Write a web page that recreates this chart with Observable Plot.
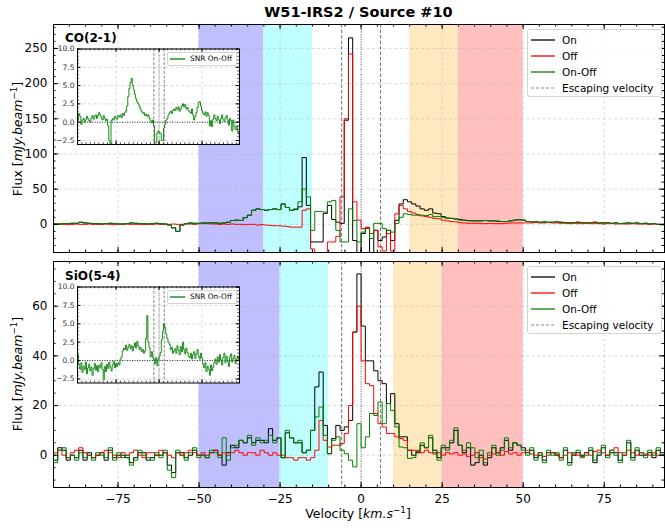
<!DOCTYPE html>
<html><head><meta charset="utf-8">
<script src="https://cdn.jsdelivr.net/npm/d3@7"></script>
<script src="https://cdn.jsdelivr.net/npm/@observablehq/plot@0.6"></script>
<style>
body{margin:0;background:#fff;}
#fig{position:relative;width:665px;height:532px;font-family:"DejaVu Sans",sans-serif;overflow:hidden;background:#fff;color:#000;}
#fig svg{position:absolute;}
.lbl{position:absolute;white-space:nowrap;}
</style></head><body><div id="fig"></div><script>
// ---- channel grid (km/s) ----
const chanWidth = 1.3;
const firstEdge = -94.9;
const xDomain = [-94.9, 93.6];

// ---- CO(2-1) spectra (mJy/beam), one value per channel ----
const coOn = [
0.5,0.5,1,1,1.5,1.5,3,2,1.5,1,
1,0.5,1,1.5,1,0.5,0.5,1,2,1.5,
1,1,0.5,1,1.5,1,0.5,-1,-5,-10,
-1,1,2,1.5,1.5,2,2,2,2,1.5,
2,3,5.5,6,5.5,9.5,13,20,22,21,
20,21,22,21,29,24,20,21,25,95,
27,-25,-25,-25,15.6,27,7,3,1.4,148,
265,-23,-42,-13,-5,-42,-8.5,-23,-18,-8.5,
-23,5.7,29,35,32,29,26,22,20,22,
16,15,11,9,8.5,7.5,7,6,5.5,5,
5,5,5.5,5,5,4.5,4,4,5,6,
6.5,6,4,3.5,3.5,3,3.5,3,3,3.5,
3,2.5,2,2.5,3,2.5,2,2.5,3,2,
2,2.5,1.5,2,1,1.5,2,1.5,2,1,
1.5,0.5,1,0,-0.5];
const coOff = [
0,0.5,0,-0.5,0,0.5,0,0,0.5,0,
0,0,0.5,0,-0.5,0,0,0.5,0,0,
0,-0.5,0,0,0.5,0,0,0,0.5,0,
0,0.5,0.5,0,1,1,1,0.5,0.5,0,
0.5,0,0.5,0,0,-0.5,0,0,-1,-0.5,
-1,-1.5,-2,-2,-2.5,-3,-4,-4,-4,20,
22,-35,-42,-42,-42,-25,-25,-17,39,150,
242,32,6,-6,-4,-13,-8.5,-32,-38,-13,
-38,15,27,22,18,16,14,12,11,10,
8.5,8,6,5,4,3.5,2.5,2,1.5,1.5,
1.5,1,1,1.5,1,1,1,1.5,2,2,
2,2,2,2,2.5,2,2,2.5,2,2,
1.5,1.5,1,1.5,1,1,1.5,1,1,1,
0.5,1,1,0.5,1,0.5,0.5,1,0.5,0.5,
0.5,0,0.5,0,0];
const coOnOff = [
0.5,0,1,1,1.5,1.5,3,2,1.5,1,
1,0.5,1,1.5,1,0.5,0.5,1,2,1.5,
1,1,0.5,1,1.5,1,0.5,-1,-5,-10,
-1,1,1.5,1.5,1,1.5,1.5,2,2,1.5,
2,3,5.5,6,5.5,9.5,13,20,22,21,
20,21,22,21,29,24,20,22,32,50,
39,-8.5,18.5,18,17.5,32,34,-8.5,-25,-25,
22,5.5,-25,-11,-6,-20,1.4,1.4,-6,-8.5,
-11,1.4,10,15,14,13,13,13,12.5,14,
11,11,10,8.5,8.5,8,6,5.5,5,5,
5,5,5.5,5,5,4.5,4,4,5,6,
6.5,6,4,3.5,3.5,3,3.5,3,3,3.5,
3,2.5,2,2.5,3,2.5,2,2.5,3,2,
2,2.5,1.5,2,1,1.5,2,1.5,2,1,
1.5,0.5,1,0,-0.5];
const coSNR = [
0.2,1.2,0.8,-0.3,0.3,0.5,0,0.3,0.8,0.5,
0.2,0,0.6,0.9,0.4,0.8,1.0,0.5,0.9,1.3,
1.0,0.6,0.3,0.9,0.5,0.2,0.4,-0.5,-2.5,-4,
0.2,0.5,0.3,0.8,0.6,0.4,0.9,0.7,1.0,0.6,
1.2,0.9,1.3,1.5,2.2,3.5,4.6,5.4,6.0,5.0,
4.4,3.8,3.2,2.8,2.5,2.2,1.8,1.5,1.2,1.3,
0.9,1.1,0.8,1.0,0.5,0.2,-0.1,0.3,-0.5,-2.8,
-2.8,-1.5,-1.2,-1.5,-1.5,-2.5,-2.5,-0.8,-0.3,0.3,
0.5,1.0,1.3,1.5,1.2,1.6,1.8,1.6,2.0,1.7,
2.1,1.5,1.8,2.2,2.5,2.1,2.4,1.8,2.0,1.6,
1.4,1.2,1.8,1.0,0.3,0.8,1.3,2.0,2.7,2.8,
2.2,1.6,1.2,1.0,1.4,0.8,1.3,0.9,-0.5,0.2,
-0.6,0.4,1.0,0.5,0.2,0.8,0.3,-0.2,0.5,1.0,
0.4,0.1,0.6,0.9,0.3,-0.4,0.5,0.2,-1.2,0.3,
-0.6,-1.0,-0.5,-1.3,-1.6];

// ---- SiO(5-4) spectra (mJy/beam) ----
const sioOn = [
-2,3,2,-2,0,-1,2,-2,1,-1,
0,1,-2,2,-1,0,0,-1,-3,-1,
1,1,-2,-1,0,0,1,-4,-7,1,
1,-1,0,2,0,0,-1,1,2,0,
-4,1,4,3,6,5,7,5,6,6,
5,10.7,6,7,-1,9,7,5,5,1,
2,10,27.5,33.5,12,0.6,6.7,12,10,11.4,
14,49.6,73,52,38,38,34,30,28.8,20.8,
24.8,12.7,7.4,7.4,2,0,1,4,3,7,
2,-1,3,3,5,10,4,1,3,-4,
-3,0,-4,-1,3,1,3,6,2,5,
4,3,1,2,-1,0,-2,1,1,0,
-1,2,-3,0,1,0,1,2,-3,0,
3,0,1,1,-2,0,5,-1,2,0,
0,1,-1,2,1];
const sioOff = [
1,2,0,-1,1,2,3,1,0,-1,
0,1,2,1,0,-1,1,0,1,2,
0,-1,1,1,0,2,1,0,-1,1,
0,1,2,1,0,1,0,1,2,0,
1,0,1,2,1,0,1,1,0,2,
1,0,1,0,0,-1,-1,-2,-1,-1,
-2,-1,2,14,6,3.3,4,4,4.7,8.7,
20,49.6,60,38,28.8,28,16.8,12.7,11.4,8.7,
8.7,7.4,6.7,6,2,2,1.5,1,2,1,
0.5,1,0,1,0.5,1,0,0.5,-0.5,0,
1,-1,-1.5,0,0.5,1,0,1.5,0.5,1,
0,1,2,0.5,0,1,-0.5,0,1,0.5,
-1,0,1,0.5,0,-0.5,1,0,1.5,2,
1,0,2,3,1,0,2,1,0,1,
0.5,0,1,0,0];
const sioOnOff = [
-3,2,3,-1,0,-2,1,-1,0,-2,
1,0,-1,3,-2,1,-1,0,-4,-2,
2,0,-1,-2,1,-1,2,-6,-9,2,
0,-2,1,3,-1,0,-1,2,1,-1,
7,-2,3,4,6,5,8,4,7,5,
6,8,5,7,-1,10,7,5,6,1,
2,10,15.4,19.4,8,0.6,6,7.4,2,0.6,
-2,-4.7,12.7,3,7.4,16.8,16,21.4,12.7,20.8,
18,11.4,3.3,3,-1.3,-1,2,5,3,8,
1,-2,4,2,6,11,4,2,5,3,
-1,2,-3,1,4,0,2,7,3,5,
4,2,0,3,-2,1,-3,2,0,1,
-2,3,-4,1,2,-1,0,3,-2,1,
4,-1,2,0,-3,1,6,-2,3,1,
-1,2,0,3,0];
const sioSNR = [
0.8,-0.5,-1.2,-0.3,-1.6,-0.8,-1.2,-0.2,-1.8,-1.0,
-0.5,-1.4,-0.9,-2.0,-1.1,-0.4,-1.3,-0.7,-1.5,-0.6,
-1.0,-0.3,-1.2,-2.6,-0.8,-1.5,-0.5,-1.1,-0.2,-0.9,
-1.4,-0.6,-0.1,-1.0,-0.4,-0.8,-0.3,-0.6,0.2,0.5,
1.3,1.7,1.5,2.1,1.4,1.8,2.2,1.6,2.0,1.3,
1.9,2.4,1.7,2.6,2.0,1.5,1.8,1.2,1.5,1.0,
1.3,3.0,6.1,2.5,1.7,0.5,1.2,0.4,0.2,-0.4,
0.4,-0.7,0.2,0.6,1.1,2.8,4.0,5.0,4.5,3.6,
3.0,2.5,2.2,1.5,1.8,1.0,1.3,1.6,1.0,2.0,
1.4,0.8,1.9,1.2,2.5,1.5,0.9,1.7,1.1,0.6,
0.4,1.0,0.2,0.8,1.2,0.3,0.9,1.5,0.6,0.2,
1.0,0.4,-0.5,-1.0,-0.3,-1.5,-0.8,-1.2,-2.0,-0.6,
-1.4,-0.9,-0.3,0.2,-0.5,0.5,-0.2,0.8,0.1,-0.6,
0.4,1.0,-0.3,0.6,0.0,-0.8,0.5,0.9,-0.2,0.3,
0.7,-0.4,0.2,0.6,0.1];

// ---- velocity bands, lines, ticks, labels ----
const coBands = [[-50,-30],[-30,-15],[15,30],[30,50]];
const sioBands = [[-50,-25],[-25,-10],[10,25],[25,50]];
const bandColors = ["#bfbfff","#bfffff","#ffe8bf","#ffbfbf"];
const escapeV = [-6, 6];
const systemicV = [0];
const xTicks = [-75,-50,-25,0,25,50,75];
const xMinor = d3.range(-90, 91, 5);
const coYTicks = [0,50,100,150,200,250];
const coYMinor = d3.range(-30, 281, 10);
const sioYTicks = [0,20,40,60];
const sioYMinor = d3.range(-10, 76, 5);
const snrYTicks = [-2.5,0,2.5,5,7.5,10];
const snrYMinor = d3.range(-3, 10.01, 0.5);
const snrXTicks = [-50,0,50];
const snrXMinor = d3.range(-90, 91, 5);
const legendLabels = ["On","Off","On-Off","Escaping velocity"];
const titleText = "W51-IRS2 / Source #10";

const fig = document.getElementById("fig");
function steps(vals){
  const pts = vals.map((y,i)=>({v: firstEdge + i*chanWidth, y}));
  pts.push({v: firstEdge + vals.length*chanWidth, y: vals[vals.length-1]});
  return pts;
}
const gridStyle = {stroke:"#b0b0b0", strokeOpacity:0.6, strokeDasharray:"3,2.5", strokeWidth:0.8};
const baseStyle = {background:"transparent", fontFamily:"DejaVu Sans, sans-serif", overflow:"visible"};

function mainPanel(o){
  const W=665, mL=53, mR=1;
  const fw=W-mL-mR, fh=o.height-o.mt-o.mb;
  const bands=o.bands.map((b,i)=>({x1:b[0],x2:b[1],color:bandColors[i]}));
  const series=[[o.on,"#000000"],[o.off,"#ff0000"],[o.onoff,"#008000"]];
  const marks=[
    Plot.rect(bands,{x1:"x1",x2:"x2",fill:"color"}),
    Plot.gridX(xTicks,gridStyle),
    Plot.gridY(o.yTicks,gridStyle),
    Plot.ruleX(escapeV,{stroke:"#666",strokeWidth:0.9,strokeDasharray:"3.5,2"}),
    Plot.ruleX(systemicV,{stroke:"#666",strokeWidth:0.9,strokeDasharray:"1,1.5"}),
    ...series.map(([vals,c])=>Plot.line(steps(vals),{x:"v",y:"y",curve:"step-after",stroke:c,strokeWidth:1,clip:true})),
    Plot.tickX(xTicks,{x:d=>d,insetTop:fh-5}),
    Plot.tickX(xTicks,{x:d=>d,insetBottom:fh-5}),
    Plot.tickX(xMinor,{x:d=>d,insetTop:fh-2.5}),
    Plot.tickX(xMinor,{x:d=>d,insetBottom:fh-2.5}),
    Plot.tickY(o.yTicks,{y:d=>d,insetRight:fw-5}),
    Plot.tickY(o.yTicks,{y:d=>d,insetLeft:fw-5}),
    Plot.tickY(o.yMinor,{y:d=>d,insetRight:fw-2.5}),
    Plot.tickY(o.yMinor,{y:d=>d,insetLeft:fw-2.5}),
    Plot.axisY(o.yTicks,{tickSize:0,tickPadding:6,fontSize:12,label:null}),
    Plot.frame({stroke:"#000",strokeWidth:1})
  ];
  if(o.xLabels) marks.push(Plot.axisX(xTicks,{tickSize:0,tickPadding:7,fontSize:12,label:null}));
  const xs = o.xLabels ? {domain:xDomain} : {domain:xDomain, axis:null};
  return Plot.plot({width:W,height:o.height,marginLeft:mL,marginRight:mR,marginTop:o.mt,marginBottom:o.mb,
    x:xs,y:{domain:o.yDomain},color:{type:"identity"},style:baseStyle,marks});
}

function inset(o){
  const W=201, H=o.height, mL=35, mR=4, mT=o.mt, mB=4;
  const fw=W-mL-mR, fh=H-mT-mB;
  return Plot.plot({width:W,height:H,marginLeft:mL,marginRight:mR,marginTop:mT,marginBottom:mB,
    x:{domain:xDomain,axis:null}, y:{domain:[-3.05,10]}, style:baseStyle,
    marks:[
      Plot.frame({fill:"#fff",stroke:"none"}),
      Plot.gridX(snrXTicks,gridStyle),
      Plot.gridY(snrYTicks,gridStyle),
      Plot.ruleY([0],{stroke:"#000",strokeWidth:0.8,strokeDasharray:"1,1.5"}),
      Plot.ruleX(escapeV,{stroke:"#666",strokeWidth:0.8,strokeDasharray:"3,1.5"}),
      Plot.ruleX(systemicV,{stroke:"#666",strokeWidth:0.8,strokeDasharray:"1,1.2"}),
      Plot.line(steps(o.snr),{x:"v",y:"y",curve:"step-after",stroke:"#008000",strokeWidth:0.9,clip:true}),
      Plot.tickX(snrXTicks,{x:d=>d,insetTop:fh-3.5}),
      Plot.tickX(snrXTicks,{x:d=>d,insetBottom:fh-3.5}),
      Plot.tickX(snrXMinor,{x:d=>d,insetTop:fh-1.8,strokeWidth:0.7}),
      Plot.tickX(snrXMinor,{x:d=>d,insetBottom:fh-1.8,strokeWidth:0.7}),
      Plot.tickY(snrYTicks,{y:d=>d,insetRight:fw-3.5}),
      Plot.tickY(snrYTicks,{y:d=>d,insetLeft:fw-3.5}),
      Plot.tickY(snrYMinor,{y:d=>d,insetRight:fw-1.8,strokeWidth:0.7}),
      Plot.tickY(snrYMinor,{y:d=>d,insetLeft:fw-1.8,strokeWidth:0.7}),
      Plot.axisY(snrYTicks,{tickSize:0,tickPadding:3,fontSize:7.5,tickFormat:".1f",label:null,fill:"#333"}),
      Plot.frame({stroke:"#000",strokeWidth:1})
    ]});
}

function place(el,left,top){el.style.position="absolute";el.style.left=left+"px";el.style.top=top+"px";fig.appendChild(el);return el;}
function html(s,css){const d=document.createElement("div");d.className="lbl";d.innerHTML=s;d.style.cssText+=css;fig.appendChild(d);return d;}

// main panels
place(mainPanel({on:coOn,off:coOff,onoff:coOnOff,bands:coBands,yDomain:[-40,284],yTicks:coYTicks,yMinor:coYMinor,height:260,mt:24,mb:8,xLabels:false}),0,0);
place(mainPanel({on:sioOn,off:sioOff,onoff:sioOnOff,bands:sioBands,yDomain:[-13,78],yTicks:sioYTicks,yMinor:sioYMinor,height:280,mt:9,mb:45,xLabels:true}),0,252);
// insets
place(inset({snr:coSNR,height:104,mt:4.5}),42,44);
place(inset({snr:sioSNR,height:104.5,mt:4.5}),42,281.5);

// texts
html(titleText,"left:53px;top:3px;width:611px;text-align:center;font-weight:bold;font-size:14.5px;line-height:18px;");
const sup = '<span style="font-size:0.7em;position:relative;top:-0.55em">−1</span>';
const yLab = 'Flux [<i>mJy.beam</i>'+sup+']';
html(yLab,"left:-82px;top:131px;width:200px;height:16px;line-height:16px;text-align:center;font-size:12.5px;transform:rotate(-90deg);");
html(yLab,"left:-82px;top:366px;width:200px;height:16px;line-height:16px;text-align:center;font-size:12.5px;transform:rotate(-90deg);");
html('Velocity [<i>km.s</i>'+sup+']',"left:258px;top:507px;width:200px;text-align:center;font-size:12.5px;line-height:14px;");
html("CO(2-1)","left:65px;top:32px;font-weight:bold;font-size:12px;line-height:13px;");
html("SiO(5-4)","left:65px;top:270px;font-weight:bold;font-size:12px;line-height:13px;");

const legendStrokes=[["#000","1.3",""],["#ff0000","1.3",""],["rgba(0,128,0,0.8)","1.6",""],["#888","1.1","3,2"]];
function legend(top){
  const box=html("","left:527px;top:"+top+"px;width:135px;height:68px;border:1px solid #d4d4d4;border-radius:3px;background:rgba(255,255,255,0.85);box-sizing:border-box;");
  legendLabels.forEach((t,i)=>{
    const cy=9.5+i*16.3;
    const [c,w,dash]=legendStrokes[i];
    const s=document.createElementNS("http://www.w3.org/2000/svg","svg");
    s.setAttribute("width","28");s.setAttribute("height","10");
    s.style.cssText="position:absolute;left:2px;top:"+(cy-5)+"px;";
    s.innerHTML='<line x1="1" x2="25" y1="5" y2="5" stroke="'+c+'" stroke-width="'+w+'"'+(dash?' stroke-dasharray="'+dash+'"':'')+'/>';
    box.appendChild(s);
    const tx=document.createElement("div");
    tx.style.cssText="position:absolute;left:34px;top:"+(cy-7)+"px;line-height:14px;font-size:10.5px;white-space:nowrap;";
    tx.textContent=t;box.appendChild(tx);
  });
}
legend(29);
legend(266);

function snrLegend(top){
  const box=html("","left:167px;top:"+top+"px;width:70px;height:13.5px;border:1px solid #d4d4d4;border-radius:2px;background:rgba(255,255,255,0.85);box-sizing:border-box;");
  const s=document.createElementNS("http://www.w3.org/2000/svg","svg");
  s.setAttribute("width","18");s.setAttribute("height","8");
  s.style.cssText="position:absolute;left:1px;top:2px;";
  s.innerHTML='<line x1="1" x2="16" y1="4" y2="4" stroke="#008000" stroke-width="1.3"/>';
  box.appendChild(s);
  const tx=document.createElement("div");
  tx.style.cssText="position:absolute;left:22px;top:1px;line-height:10px;font-size:7.4px;white-space:nowrap;";
  tx.textContent="SNR On-Off";box.appendChild(tx);
}
snrLegend(52);
snrLegend(290);
</script></body></html>
